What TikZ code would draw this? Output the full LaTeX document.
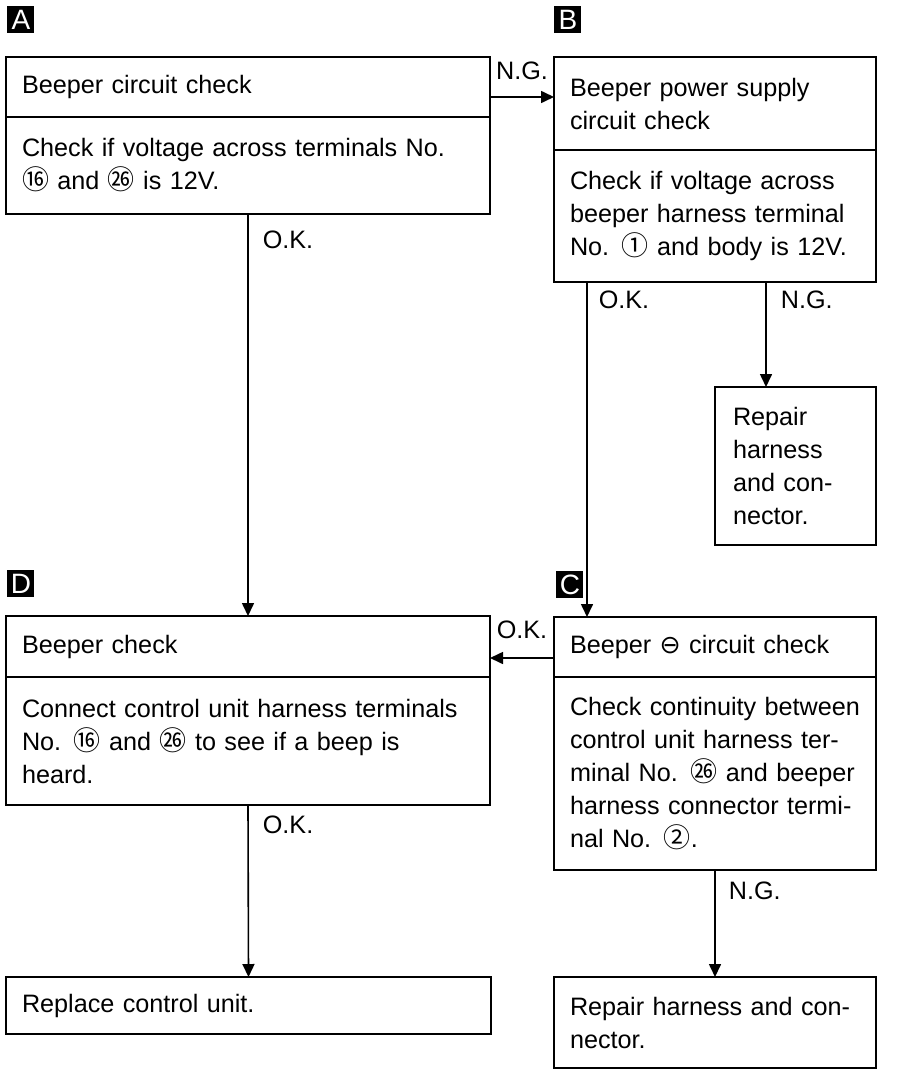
\documentclass[tikz,border=0pt]{standalone}
\usepackage{fontspec}
\setmainfont{Liberation Sans}
\newfontfamily\circfont{Noto Sans CJK JP}
\newfontfamily\signfont{DejaVu Sans}
\usetikzlibrary{arrows.meta, positioning, calc}
\newcommand{\bodyfont}{\fontsize{12.6}{16.5}\selectfont}
\newcommand{\cnum}[1]{{\circfont\fontsize{13.5}{13.5}\selectfont #1}}
\tikzset{
    % Check boxes
    check box/.style={
        draw, line width=1.4pt, outer sep=0pt,
        inner xsep=8pt, inner ysep=4pt,
        align=left, font=\bodyfont
    },
    % Letter tags
    tag/.style={
        rectangle, fill=black, text=white, anchor=north west,
        minimum size=13.5pt, inner sep=0pt, font=\fontsize{14}{14}\selectfont
    },
    % Arrows
    flow/.style={
        -{Triangle[length=6.5pt, width=6pt]}, line width=0.8pt
    },
    % Answer labels
    answer/.style={
        inner sep=2pt, font=\bodyfont
    }
}
\begin{document}
\begin{tikzpicture}[x=0.5pt, y=-0.5pt]
    \useasboundingbox (0,0) rectangle (896,1070);

    % Tags
    \node[tag] (tagA) at (7,6) {A};
    \node[tag] (tagB) at (554,6) {B};
    \node[tag] (tagC) at (556,571) {C};
    \node[tag] (tagD) at (7,570) {D};

    % A: Beeper circuit check
    \node[check box, anchor=north west, text width=226pt, minimum height=30pt] (Ahead) at (6,57) {Beeper circuit check};
    \node[check box, below=0pt of Ahead, text width=226pt, minimum height=48.5pt] (Abody) {
        Check if voltage across terminals No.\\
        \cnum{⑯} and \cnum{㉖} is 12V.
    };

    % B: Beeper power supply circuit check
    \node[check box, anchor=north west, text width=145pt, minimum height=46.5pt] (Bhead) at (554,57) {Beeper power supply\\circuit check};
    \node[check box, below=0pt of Bhead, text width=145pt, minimum height=66pt] (Bbody) {
        Check if voltage across\\
        beeper harness terminal\\
        No. \cnum{①} and body is 12V.
    };

    % Repair (B N.G.)
    \node[check box, anchor=north west, inner xsep=9pt, text width=62.5pt, minimum height=79pt] (RepB) at (715,387) {
        Repair\\
        harness\\
        and con-\\
        nector.
    };

    % C: Beeper minus circuit check
    \node[check box, anchor=north west, text width=145pt, minimum height=30pt] (Chead) at (554,617) {Beeper {\signfont ⊖} circuit check};
    \node[check box, below=0pt of Chead, text width=145pt, minimum height=96.5pt] (Cbody) {
        Check continuity between\\
        control unit harness ter-\\
        minal No. \cnum{㉖} and beeper\\
        harness connector termi-\\
        nal No. \cnum{②}.
    };

    % D: Beeper check
    \node[check box, anchor=north west, text width=226pt, minimum height=30.5pt] (Dhead) at (6,616) {Beeper check};
    \node[check box, below=0pt of Dhead, text width=226pt, minimum height=64pt] (Dbody) {
        Connect control unit harness terminals\\
        No. \cnum{⑯} and \cnum{㉖} to see if a beep is\\
        heard.
    };

    % Final actions
    \node[check box, anchor=north west, text width=226.5pt, minimum height=28.5pt] (Repl) at (6,977) {Replace control unit.};
    \node[check box, anchor=north west, text width=145pt, minimum height=45.5pt] (RepC) at (554,977) {
        Repair harness and con-\\
        nector.
    };

    % Flow arrows
    \draw[flow] ([yshift=-5pt]Ahead.east) -- ([yshift=-5pt]Ahead.east -| Bhead.west) node[midway, above=6pt, answer] {N.G.};
    \draw[flow] (Abody.south) -- (Dhead.north) node[pos=0.065, right=5pt, answer] {O.K.};
    \draw[flow] ([xshift=16.5pt]Bbody.south west) -- ([xshift=16.5pt]Chead.north west) node[pos=0.054, right=3.5pt, answer] {O.K.};
    \draw[flow] ([xshift=106pt]Bbody.south west) -- ([xshift=106pt]Bbody.south west |- RepB.north) node[pos=0.17, right=5pt, answer] {N.G.};
    \draw[flow] ([yshift=-5.5pt]Chead.west) -- ([yshift=-5.5pt]Chead.west -| Dhead.east) node[midway, above=7pt, answer] {O.K.};
    \draw[flow] (Dbody.south) -- (Repl.north) node[pos=0.116, right=5pt, answer] {O.K.};
    \draw[flow] (Cbody.south) -- (RepC.north) node[pos=0.19, right=4.5pt, answer] {N.G.};

\end{tikzpicture}
\end{document}
